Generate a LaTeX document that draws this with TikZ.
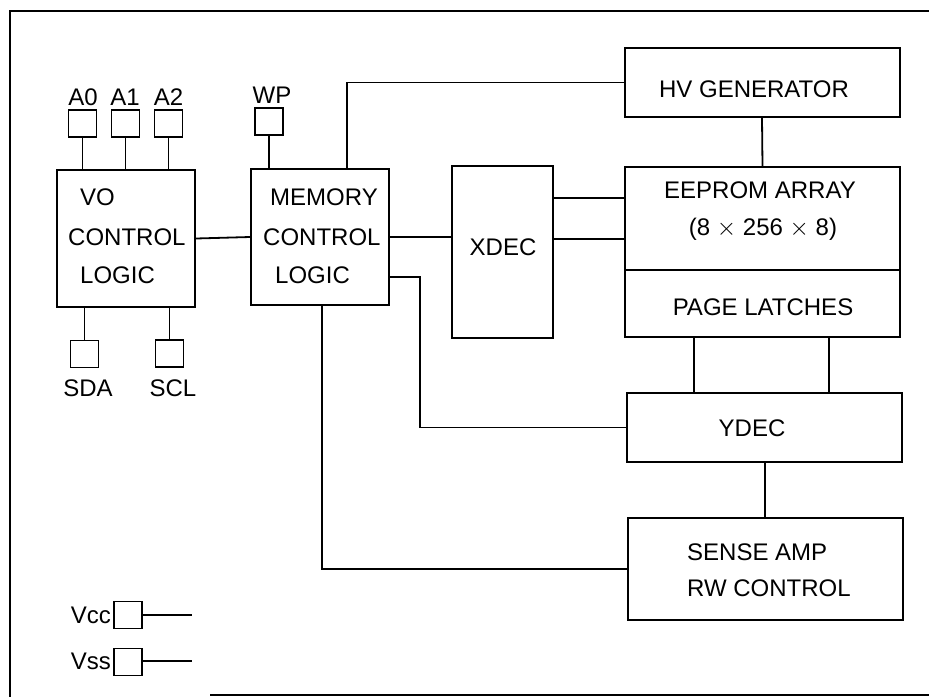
\documentclass[tikz,border=0pt]{standalone}
\usepackage{fontspec}
\setmainfont{Liberation Sans}
\usetikzlibrary{calc}
\tikzset{
  wire/.style={line width=1.8pt},
  blk/.style={draw, line width=2pt, rectangle, inner sep=0pt},
  pad/.style={draw, line width=1.8pt, rectangle, inner sep=0pt, minimum width=28pt, minimum height=27pt},
  lbl/.style={font=\fontsize{24}{26}\selectfont, inner sep=0pt},
}
\begin{document}
\begin{tikzpicture}[x=1pt,y=-1pt]
\useasboundingbox (0,0) rectangle (929,697);
% frame
\draw[wire] (929,11) -- (10,11) -- (10,697);
\draw[line width=1.4pt] (210,695) -- (929,695);

% blocks
\node[blk, minimum width=138pt, minimum height=137pt] (io) at (126,238.5) {};
\node[blk, minimum width=138pt, minimum height=136pt] (mem) at (320,237) {};
\node[blk, minimum width=101pt, minimum height=172pt] (xdec) at (502.5,252) {};
\node[blk, minimum width=275pt, minimum height=69pt] (hv) at (762,82.5) {};
\node[blk, minimum width=275pt, minimum height=103pt] (eeprom) at (762.5,218.5) {};
\node[blk, minimum width=275pt, minimum height=67pt] (latch) at (762.5,303.5) {};
\node[blk, minimum width=275pt, minimum height=69pt] (ydec) at (764,427.5) {};
\node[blk, minimum width=275pt, minimum height=102pt] (sense) at (765,569) {};

% pads
\node[pad] (a0) at (82.5,123.5) {};
\node[pad] (a1) at (125.5,123.5) {};
\node[pad] (a2) at (168.5,123.5) {};
\node[pad] (wp) at (269,121.5) {};
\node[pad] (sda) at (84.5,354) {};
\node[pad] (scl) at (169.5,353.5) {};
\node[pad] (vcc) at (128,615) {};
\node[pad] (vss) at (128,662) {};

% pad labels
\node[lbl] (la0) at (83,97) {A0};
\node[lbl] (la1) at (125,97) {A1};
\node[lbl] (la2) at (168.5,97) {A2};
\node[lbl] (lwp) at (272,95) {WP};
\node[lbl] (lsda) at (88,388) {SDA};
\node[lbl] (lscl) at (173,388) {SCL};
\node[lbl, anchor=east] (lvcc) at (111,615) {Vcc};
\node[lbl, anchor=east] (lvss) at (111,661) {Vss};

% block texts
\node[lbl, anchor=west] (t1) at (80,197) {VO};
\node[lbl, anchor=west] (t2) at (68,237) {CONTROL};
\node[lbl, anchor=west] (t3) at (80,275) {LOGIC};
\node[lbl, anchor=west] (t4) at (270,197) {MEMORY};
\node[lbl, anchor=west] (t5) at (263,237) {CONTROL};
\node[lbl, anchor=west] (t6) at (275,275) {LOGIC};
\node[lbl] (t7) at (503,247) {XDEC};
\node[lbl] (t8) at (754,89) {HV GENERATOR};
\node[lbl] (t9) at (760,190) {EEPROM ARRAY};
\node[lbl] (t10) at (763,229) {(8 $\times$ 256 $\times$ 8)};
\node[lbl] (t11) at (763,307) {PAGE LATCHES};
\node[lbl] (t12) at (752,428) {YDEC};
\node[lbl, anchor=west] (t13) at (687,552) {SENSE AMP};
\node[lbl, anchor=west] (t14) at (687,588) {RW CONTROL};

% connectors
\foreach \p in {a0,a1,a2} \draw[wire] (\p.south) -- (\p.south |- io.north);
\draw[wire] (wp.south) -- (wp.south |- mem.north);
\draw[wire] (sda.north) -- (sda.north |- io.south);
\draw[wire] (scl.north) -- (scl.north |- io.south);
\draw[wire] (io.east) -- (mem.west);
\coordinate (hvtap) at (347,169);
\draw[wire] (hvtap) |- (hv.west);
\draw[wire] (hv.south) -- (eeprom.north);
\draw[wire] (mem.east) -- (mem.east -| xdec.west);
\draw[wire] ([yshift=54pt]xdec.east) -- ([yshift=54pt]xdec.east -| eeprom.west);
\draw[wire] ([yshift=13pt]xdec.east) -- ([yshift=13pt]xdec.east -| eeprom.west);
\draw[wire] ([yshift=-40pt]mem.east) -- ++(30,0) |- (ydec.west);
\draw[wire] ([xshift=2pt]mem.south) |- (sense.west);
\draw[wire] ([xshift=-68.5pt]latch.south) -- ([xshift=-68.5pt]latch.south |- ydec.north);
\draw[wire] ([xshift=66.5pt]latch.south) -- ([xshift=66.5pt]latch.south |- ydec.north);
\draw[wire] (ydec.south -| sense.north) -- (sense.north);
\coordinate (vccend) at (192,615);
\coordinate (vssend) at (192,661);
\draw[wire] (vcc.east) -- (vccend);
\draw[wire] (vss.east |- vssend) -- (vssend);
\end{tikzpicture}
\end{document}
